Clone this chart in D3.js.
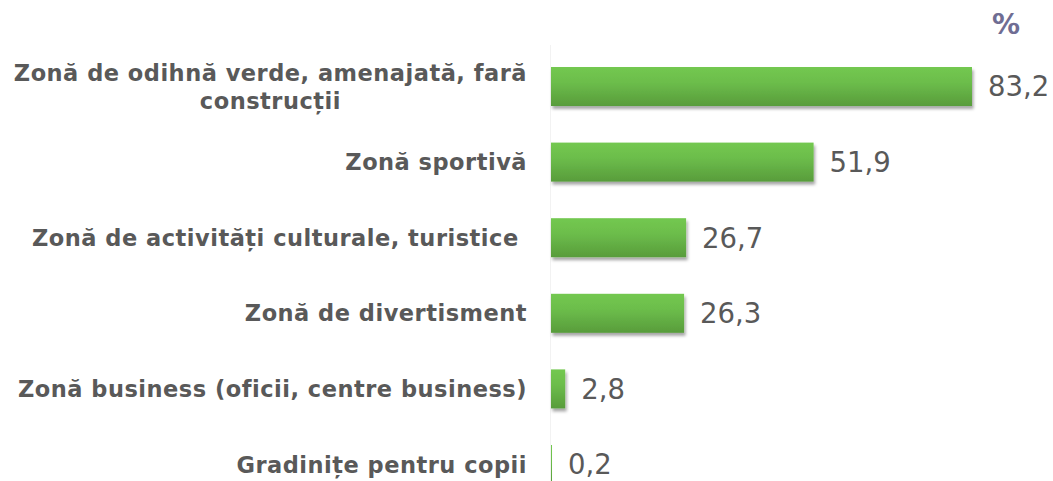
<!DOCTYPE html>
<html>
<head>
  <meta charset="utf-8">
  <title>Zone preferate</title>
  <style>
    body { margin: 0; background: #ffffff; }
    .cat-label {
      font-family: "DejaVu Sans", Verdana, sans-serif;
      font-weight: bold;
      font-size: 22.5px;
      letter-spacing: 0.5px;
      fill: #595959;
      white-space: pre;
    }
    .value-label {
      font-family: "DejaVu Sans", sans-serif;
      font-size: 27.5px;
      fill: #595959;
    }
    .unit-label {
      font-family: "DejaVu Sans", sans-serif;
      font-weight: bold;
      font-size: 28px;
      fill: #6f6d93;
    }
  </style>
</head>
<body>
  <div id="chart"></div>

  <script src="https://d3js.org/d3.v7.min.js"></script>
  <script>
    const width = 1053;
    const height = 481;

    // data
    const categories = [
      "Zonă de odihnă verde, amenajată, fară construcții",
      "Zonă sportivă",
      "Zonă de activități culturale, turistice ",
      "Zonă de divertisment",
      "Zonă business (oficii, centre business)",
      "Gradinițe pentru copii"
    ];
    const labelLines = [
      ["Zonă de odihnă verde, amenajată, fară", "construcții"],
      ["Zonă sportivă"],
      ["Zonă de activități culturale, turistice "],
      ["Zonă de divertisment"],
      ["Zonă business (oficii, centre business)"],
      ["Gradinițe pentru copii"]
    ];
    const values = [83.2, 51.9, 26.7, 26.3, 2.8, 0.2];
    const unit = "%";

    const svg = d3.select("#chart")
      .append("svg")
      .attr("width", width)
      .attr("height", height);

    const defs = svg.append("defs");
    const grad = defs.append("linearGradient")
      .attr("id", "barGrad")
      .attr("x1", 0).attr("y1", 0)
      .attr("x2", 0).attr("y2", 1);
    grad.append("stop").attr("offset", "0%").attr("stop-color", "#73c850");
    grad.append("stop").attr("offset", "40%").attr("stop-color", "#6cbd4b");
    grad.append("stop").attr("offset", "100%").attr("stop-color", "#589c3b");

    const shadow = defs.append("filter")
      .attr("id", "barShadow")
      .attr("x", "-10%").attr("y", "-20%")
      .attr("width", "130%").attr("height", "160%");
    shadow.append("feDropShadow")
      .attr("dx", 1.5).attr("dy", 3)
      .attr("stdDeviation", 1.8)
      .attr("flood-color", "#000000")
      .attr("flood-opacity", 0.35);

    const xScale = d3.scaleLinear()
      .domain([0, 100])
      .range([551, 1057]);

    const yScale = d3.scaleBand()
      .domain(categories)
      .range([48.7, 502.3])
      .paddingInner(0.484)
      .paddingOuter(0.242);

    // faint category axis line
    svg.append("line")
      .attr("x1", xScale(0) - 0.5).attr("x2", xScale(0) - 0.5)
      .attr("y1", 45).attr("y2", height)
      .attr("stroke", "#f2f2f2")
      .attr("stroke-width", 1);

    // bars
    svg.selectAll(".bar")
      .data(values)
      .enter()
      .append("rect")
      .attr("class", "bar")
      .attr("x", xScale(0))
      .attr("y", (d, i) => yScale(categories[i]))
      .attr("width", d => Math.max(1, xScale(d) - xScale(0)))
      .attr("height", yScale.bandwidth())
      .attr("fill", "url(#barGrad)")
      .attr("filter", (d) => d > 1 ? "url(#barShadow)" : null);

    // value labels
    svg.selectAll(".value-label")
      .data(values)
      .enter()
      .append("text")
      .attr("class", "value-label")
      .attr("x", d => xScale(d) + 16)
      .attr("y", (d, i) => yScale(categories[i]) + yScale.bandwidth() / 2)
      .attr("dy", "0.36em")
      .text(d => d3.format(".1f")(d).replace(".", ","));

    // category labels, wrapped lines centred inside a right aligned block
    const labelRight = 527;
    const lineHeight = 28;
    labelLines.forEach((lines, i) => {
      const cy = yScale(categories[i]) + yScale.bandwidth() / 2;
      const g = svg.append("g");
      const texts = lines.map((line, k) => g.append("text")
        .attr("class", "cat-label")
        .attr("y", cy + (k - (lines.length - 1) / 2) * lineHeight)
        .attr("dy", "0.36em")
        .text(line));
      if (lines.length === 1) {
        texts[0].attr("x", labelRight).attr("text-anchor", "end");
      } else {
        const maxW = d3.max(texts, t => t.node().getComputedTextLength());
        texts.forEach(t => t.attr("x", labelRight - maxW / 2).attr("text-anchor", "middle"));
      }
    });

    // unit
    svg.append("text")
      .attr("class", "unit-label")
      .attr("x", 1006)
      .attr("y", 24)
      .attr("dy", "0.36em")
      .attr("text-anchor", "middle")
      .text(unit);
  </script>
</body>
</html>
